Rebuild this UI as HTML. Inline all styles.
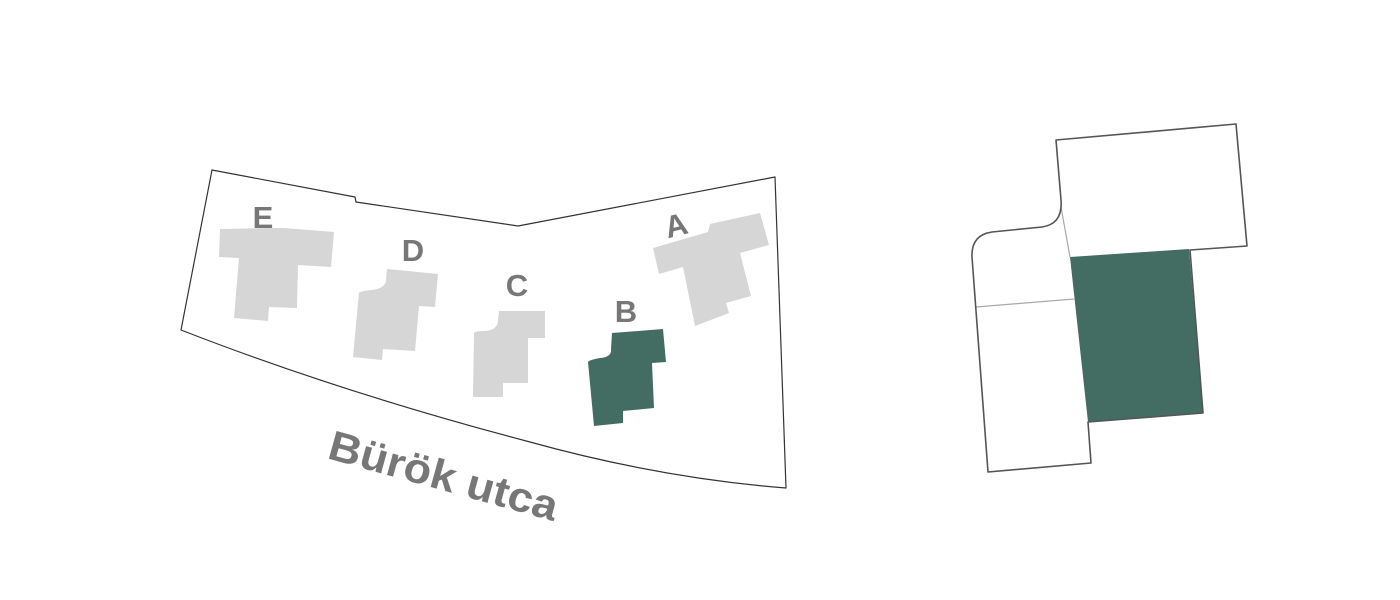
<!DOCTYPE html>
<html><head><meta charset="utf-8"><style>
html,body{margin:0;padding:0;background:#fff;}
svg{display:block;}
text{font-family:"Liberation Sans",sans-serif;font-weight:bold;fill:#777;}
</style></head><body>
<svg width="1400" height="600" viewBox="0 0 1400 600" xmlns="http://www.w3.org/2000/svg">
<rect width="1400" height="600" fill="#fff"/>
<path d="M212,170 L355,197 L356,202 L518,226 L775,177 L786,488 Q660,478 530,442 Q340,392 181,330 Z" fill="none" stroke="#333" stroke-width="1.2" stroke-linejoin="round"/>
<polygon points="220,229 276,228 284,228 334,232 331,267 298,265 297,308 269,307 268,321 234,318 239,258 219,257" fill="#d6d6d6"/>
<path d="M387,269 L438,274 L435,307 L419,306 L415,351 L383,349 L382,360 L353,357 L359,293 Q360,291 372,290 Q386,288 386,280 Z" fill="#d6d6d6"/>
<path d="M499,311 L545,311 L545,338 L528,338 L528,383 L503,383 L503,397 L473,397 L474,333 Q475,331 485,331 Q498,330 498,320 Z" fill="#d6d6d6"/>
<path d="M612,333 L663,329 L666,362 L652,363 L654,408 L623,411 L623,423 L594,426 L588,362 Q589,360 600,358 Q612,357 611,349 Z" fill="#436d63"/>
<polygon points="710,224 760,213 769,245 740,253 751,296 726,303 729,313 695,326 683,267 659,274 653,248 708,232" fill="#d6d6d6"/>
<text x="263" y="228" font-size="31" text-anchor="middle">E</text>
<text x="413" y="261" font-size="31" text-anchor="middle">D</text>
<text x="517" y="296" font-size="31" text-anchor="middle">C</text>
<text x="626" y="322" font-size="31" text-anchor="middle">B</text>
<text x="676" y="236" font-size="31" text-anchor="middle" transform="rotate(-14 676 225)">A</text>
<text x="326" y="458" font-size="42" textLength="236" lengthAdjust="spacingAndGlyphs" transform="rotate(15.5 326 458)">Bürök utca</text>
<polygon points="1070,257 1189,249 1203,413 1088,422" fill="#436d63"/>
<line x1="1070" y1="257" x2="1061" y2="207" stroke="#aaa" stroke-width="1.2"/>
<line x1="976" y1="307" x2="1074" y2="299" stroke="#aaa" stroke-width="1.2"/>
<path d="M1056,140 L1236,124 L1247,246 L1190,250 L1203,413 L1088,422 L1091,463 L988,472 L972,257 Q971,235 992,232 L1042,227 Q1063,224 1061,200 Z" fill="none" stroke="#555" stroke-width="1.6" stroke-linejoin="round"/>
</svg>
</body></html>
